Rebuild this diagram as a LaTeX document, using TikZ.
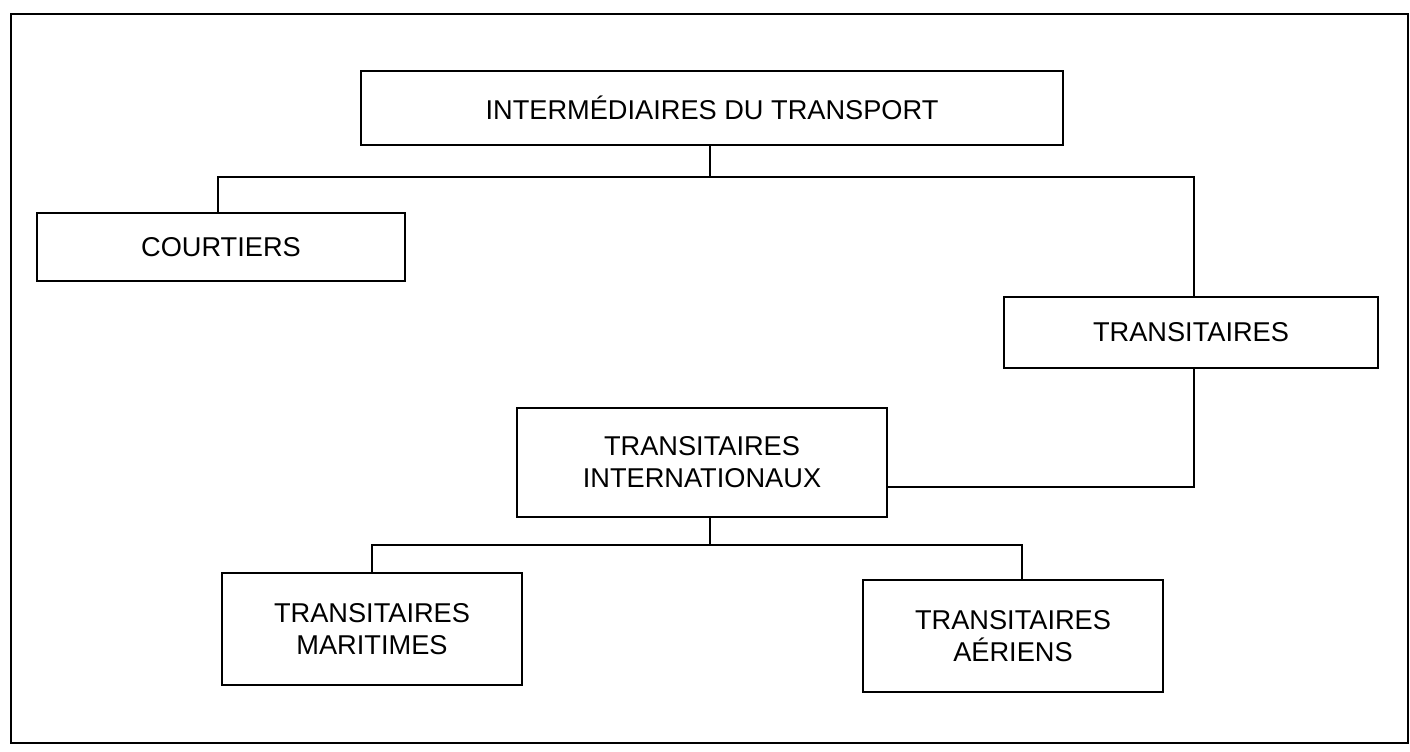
\documentclass[tikz,border=0pt]{standalone}
\usepackage{fontspec}
\setmainfont{Liberation Sans}
\begin{document}
\begin{tikzpicture}[x=0.5pt,y=-0.5pt,
  box/.style={draw,line width=1.4pt,rectangle,inner sep=0pt,align=center,
    font=\fontsize{13.6pt}{16pt}\selectfont},
  lbl/.style={inner sep=0pt,align=center,font=\fontsize{13.6pt}{16pt}\selectfont},
  conn/.style={line width=0.8pt},
  frame/.style={line width=1.1pt}]
\useasboundingbox (0,0) rectangle (1410,751);
\draw[frame] (11,14) rectangle (1408,743);
% boxes
\node[box,minimum width=351pt,minimum height=37pt] (top) at (712,108) {INTERMÉDIAIRES DU TRANSPORT};
\node[box,minimum width=184pt,minimum height=34pt] (courtiers) at (221,247) {COURTIERS};
\node[box,minimum width=187pt,minimum height=35.5pt] (trans) at (1191,332.5) {TRANSITAIRES};
\node[box,minimum width=185pt,minimum height=54.5pt] (ti) at (702,462.5) {TRANSITAIRES\\INTERNATIONAUX};
\node[box,minimum width=150pt,minimum height=56pt] (tm) at (372,629) {TRANSITAIRES\\MARITIMES};
\node[box,minimum width=150pt,minimum height=56pt] (ta) at (1013,636) {TRANSITAIRES\\AÉRIENS};
% connectors
\coordinate (b1L) at (218,177);
\coordinate (b1R) at (1194,177);
\coordinate (b1M) at (710,177);
\draw[conn] (b1M |- top.south) -- (b1M);
\draw[conn] (b1L |- courtiers.north) -- (b1L) -- (b1R) -- (b1R |- trans.north);
\coordinate (c2) at (1194,487);
\draw[conn] (c2 |- trans.south) -- (c2) -- (ti.east |- c2);
\coordinate (b2L) at (372,545);
\coordinate (b2R) at (1022,545);
\coordinate (b2M) at (710,545);
\draw[conn] (b2M |- ti.south) -- (b2M);
\draw[conn] (b2L |- tm.north) -- (b2L) -- (b2R) -- (b2R |- ta.north);
\end{tikzpicture}
\end{document}
